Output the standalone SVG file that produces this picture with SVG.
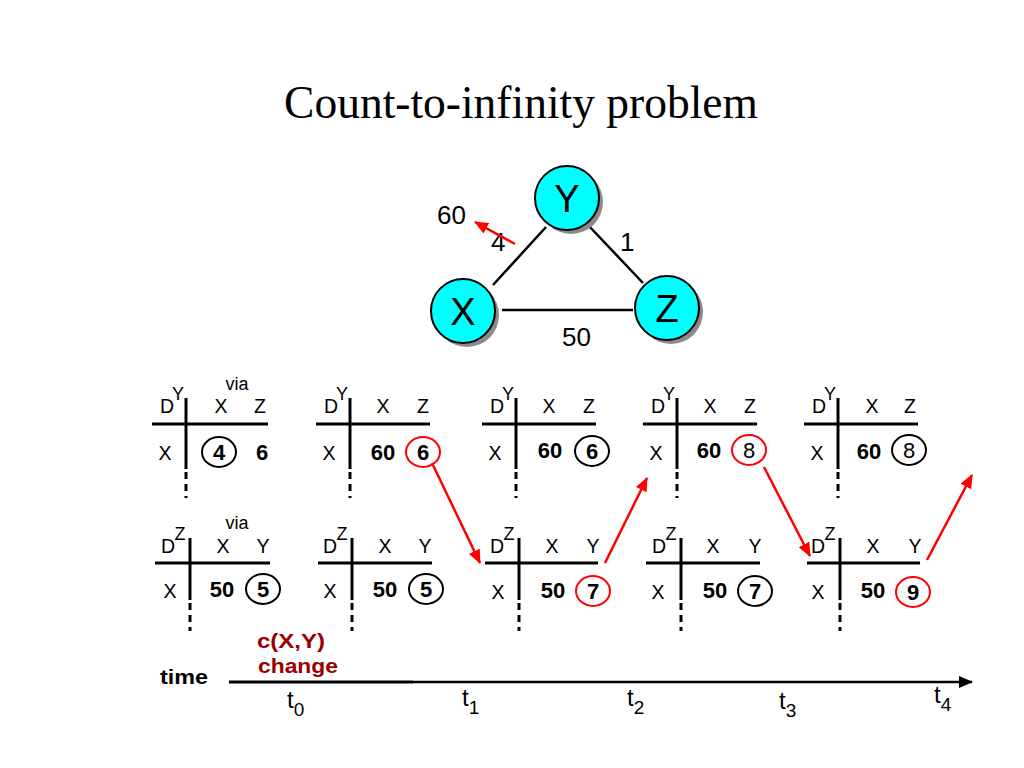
<svg xmlns="http://www.w3.org/2000/svg" width="1024" height="768" viewBox="0 0 1024 768">
<style>
.t{font-family:"Liberation Sans",Arial,sans-serif;fill:#000}
.h{font-size:19.5px;text-anchor:middle}
.s{font-size:18px;text-anchor:middle}
.b{font-weight:bold;font-size:22px}
.r{font-size:22px}
.ln{stroke:#000;stroke-width:3;fill:none}
.dash{stroke:#000;stroke-width:3;stroke-dasharray:7 5;fill:none}
.cb{fill:none;stroke:#000;stroke-width:2}
.cr{fill:none;stroke:#f00;stroke-width:2}
.ra{stroke:#f00;stroke-width:2.5;fill:none;marker-end:url(#rh)}
.node{fill:#00ffff;stroke:#000;stroke-width:2}
.shadow{fill:#8a8a8a}
.edge{stroke:#000;stroke-width:2.5}
.nl{font-family:"Liberation Sans",Arial,sans-serif;font-size:38px;text-anchor:middle}
.el{font-family:"Liberation Sans",Arial,sans-serif;font-size:26px}
.tl{font-family:"Liberation Sans",Arial,sans-serif;font-size:24px}
.sub{font-size:19px}
.dr{fill:#990000;font-weight:bold;font-size:21px}
</style>
<defs>
<marker id="rh" viewBox="0 0 14 12" refX="13" refY="6" markerWidth="14" markerHeight="12" markerUnits="userSpaceOnUse" orient="auto">
<path d="M0,0 L14,6 L0,12 z" fill="#f00"/>
</marker>
<marker id="bh" viewBox="0 0 14 12" refX="13" refY="6" markerWidth="14" markerHeight="12" markerUnits="userSpaceOnUse" orient="auto">
<path d="M0,0 L14,6 L0,12 z" fill="#000"/>
</marker>
</defs>
<rect width="1024" height="768" fill="#fff"/>
<text x="521" y="118" font-family="'Liberation Serif','Times New Roman',serif" font-size="45.5" text-anchor="middle">Count-to-infinity problem</text>

<g id="edges">
<line class="edge" x1="493" y1="285" x2="546" y2="227"/>
<line class="edge" x1="588" y1="225" x2="643" y2="283"/>
<line class="edge" x1="502" y1="310" x2="633" y2="310"/>
</g>
<g id="node-Y"><circle class="shadow" cx="571" cy="202" r="32"/><circle class="node" cx="567" cy="198" r="32"/><text class="nl" x="567" y="212">Y</text></g>
<g id="node-X"><circle class="shadow" cx="467" cy="315" r="32"/><circle class="node" cx="463" cy="311" r="32"/><text class="nl" x="463" y="325">X</text></g>
<g id="node-Z"><circle class="shadow" cx="671" cy="312" r="32"/><circle class="node" cx="667" cy="308" r="32"/><text class="nl" x="667" y="322">Z</text></g>
<g id="edge-labels">
<text class="el" x="437" y="224">60</text>
<text class="el" x="491" y="251">4</text>
<text class="el" x="620" y="251">1</text>
<text class="el" x="562" y="346">50</text>
<line class="ra" x1="515" y1="244" x2="475" y2="222"/>
</g>

<!-- top row tables -->
<g id="tableY-t0" class="t" transform="translate(186,424)">
<text class="s" x="51" y="-34">via</text>
<text class="h" x="-19" y="-11">D</text><text class="s" x="-8" y="-24">Y</text>
<line class="ln" x1="0" y1="-26" x2="0" y2="45"/><line class="dash" x1="0" y1="48" x2="0" y2="74"/>
<line class="ln" x1="-34" y1="0" x2="82" y2="0"/>
<text class="h" x="35" y="-11">X</text><text class="h" x="74" y="-11">Z</text>
<text class="h" x="-21" y="36">X</text>
<ellipse class="cb" cx="33" cy="28" rx="17" ry="15"/><text class="h b" x="33" y="36">4</text>
<text class="h b" x="76" y="36">6</text>
</g>
<g id="tableY-t1" class="t" transform="translate(350,424)">
<text class="h" x="-19" y="-11">D</text><text class="s" x="-8" y="-24">Y</text>
<line class="ln" x1="0" y1="-26" x2="0" y2="45"/><line class="dash" x1="0" y1="48" x2="0" y2="74"/>
<line class="ln" x1="-34" y1="0" x2="80" y2="0"/>
<text class="h" x="33" y="-11">X</text><text class="h" x="73" y="-11">Z</text>
<text class="h" x="-21" y="36">X</text>
<text class="h b" x="33" y="36">60</text>
<ellipse class="cr" cx="73" cy="28" rx="17" ry="15"/><text class="h b" x="73" y="36">6</text>
</g>
<g id="tableY-t2" class="t" transform="translate(516,424)">
<text class="h" x="-19" y="-11">D</text><text class="s" x="-8" y="-24">Y</text>
<line class="ln" x1="0" y1="-26" x2="0" y2="45"/><line class="dash" x1="0" y1="48" x2="0" y2="74"/>
<line class="ln" x1="-34" y1="0" x2="80" y2="0"/>
<text class="h" x="33" y="-11">X</text><text class="h" x="73" y="-11">Z</text>
<text class="h" x="-21" y="36">X</text>
<text class="h b" x="34" y="34">60</text>
<ellipse class="cb" cx="76" cy="27" rx="17" ry="15"/><text class="h b" x="76" y="35">6</text>
</g>
<g id="tableY-t3" class="t" transform="translate(677,424)">
<text class="h" x="-19" y="-11">D</text><text class="s" x="-8" y="-24">Y</text>
<line class="ln" x1="0" y1="-26" x2="0" y2="45"/><line class="dash" x1="0" y1="48" x2="0" y2="74"/>
<line class="ln" x1="-34" y1="0" x2="80" y2="0"/>
<text class="h" x="33" y="-11">X</text><text class="h" x="73" y="-11">Z</text>
<text class="h" x="-21" y="36">X</text>
<text class="h b" x="32" y="34">60</text>
<ellipse class="cr" cx="72" cy="26" rx="17" ry="15"/><text class="h r" x="72" y="34">8</text>
</g>
<g id="tableY-t4" class="t" transform="translate(838,424)">
<text class="h" x="-19" y="-11">D</text><text class="s" x="-8" y="-24">Y</text>
<line class="ln" x1="0" y1="-26" x2="0" y2="45"/><line class="dash" x1="0" y1="48" x2="0" y2="74"/>
<line class="ln" x1="-34" y1="0" x2="80" y2="0"/>
<text class="h" x="34" y="-11">X</text><text class="h" x="72" y="-11">Z</text>
<text class="h" x="-21" y="36">X</text>
<text class="h b" x="31" y="35">60</text>
<ellipse class="cb" cx="71" cy="26" rx="17" ry="15"/><text class="h r" x="71" y="34">8</text>
</g>

<!-- bottom row tables -->
<g id="tableZ-t0" class="t" transform="translate(190,563)">
<text class="s" x="47" y="-34">via</text>
<text class="h" x="-22" y="-10">D</text><text class="s" x="-10" y="-23">Z</text>
<line class="ln" x1="0" y1="-25" x2="0" y2="37"/><line class="dash" x1="0" y1="40" x2="0" y2="68"/>
<line class="ln" x1="-35" y1="0" x2="80" y2="0"/>
<text class="h" x="33" y="-10">X</text><text class="h" x="73" y="-10">Y</text>
<text class="h" x="-20" y="35">X</text>
<text class="h b" x="32" y="34">50</text>
<ellipse class="cb" cx="73" cy="26" rx="17" ry="15"/><text class="h b" x="73" y="34">5</text>
</g>
<g id="tableZ-t1" class="t" transform="translate(352,563)">
<text class="h" x="-22" y="-10">D</text><text class="s" x="-10" y="-23">Z</text>
<line class="ln" x1="0" y1="-25" x2="0" y2="37"/><line class="dash" x1="0" y1="40" x2="0" y2="68"/>
<line class="ln" x1="-34" y1="0" x2="80" y2="0"/>
<text class="h" x="33" y="-10">X</text><text class="h" x="73" y="-10">Y</text>
<text class="h" x="-22" y="35">X</text>
<text class="h b" x="33" y="34">50</text>
<ellipse class="cb" cx="74" cy="26" rx="17" ry="15"/><text class="h b" x="74" y="34">5</text>
</g>
<g id="tableZ-t2" class="t" transform="translate(519,563)">
<text class="h" x="-22" y="-10">D</text><text class="s" x="-10" y="-23">Z</text>
<line class="ln" x1="0" y1="-25" x2="0" y2="37"/><line class="dash" x1="0" y1="40" x2="0" y2="68"/>
<line class="ln" x1="-34" y1="0" x2="79" y2="0"/>
<text class="h" x="33" y="-10">X</text><text class="h" x="74" y="-10">Y</text>
<text class="h" x="-21" y="36">X</text>
<text class="h b" x="34" y="35">50</text>
<ellipse class="cr" cx="74" cy="28" rx="17" ry="15"/><text class="h b" x="74" y="36">7</text>
</g>
<g id="tableZ-t3" class="t" transform="translate(681,563)">
<text class="h" x="-22" y="-10">D</text><text class="s" x="-10" y="-23">Z</text>
<line class="ln" x1="0" y1="-25" x2="0" y2="37"/><line class="dash" x1="0" y1="40" x2="0" y2="68"/>
<line class="ln" x1="-35" y1="0" x2="79" y2="0"/>
<text class="h" x="32" y="-10">X</text><text class="h" x="74" y="-10">Y</text>
<text class="h" x="-23" y="36">X</text>
<text class="h b" x="34" y="35">50</text>
<ellipse class="cb" cx="74" cy="28" rx="17" ry="15"/><text class="h b" x="74" y="36">7</text>
</g>
<g id="tableZ-t4" class="t" transform="translate(840,563)">
<text class="h" x="-22" y="-10">D</text><text class="s" x="-10" y="-23">Z</text>
<line class="ln" x1="0" y1="-25" x2="0" y2="37"/><line class="dash" x1="0" y1="40" x2="0" y2="68"/>
<line class="ln" x1="-33" y1="0" x2="80" y2="0"/>
<text class="h" x="33" y="-10">X</text><text class="h" x="75" y="-10">Y</text>
<text class="h" x="-22" y="36">X</text>
<text class="h b" x="33" y="35">50</text>
<ellipse class="cr" cx="73" cy="29" rx="17" ry="15"/><text class="h b" x="73" y="37">9</text>
</g>

<g id="connectors">
<line class="ra" x1="432" y1="463" x2="480" y2="563"/>
<line class="ra" x1="605" y1="563" x2="647" y2="478"/>
<line class="ra" x1="764" y1="467" x2="810" y2="556"/>
<line class="ra" x1="927" y1="560" x2="972" y2="475"/>
</g>

<g id="timeline">
<line x1="229" y1="682" x2="413" y2="682" stroke="#000" stroke-width="3"/>
<line x1="413" y1="682" x2="972" y2="682" stroke="#000" stroke-width="2.5" marker-end="url(#bh)"/>
<text class="t" x="160" y="684" font-size="21" font-weight="bold" textLength="48" lengthAdjust="spacingAndGlyphs">time</text>
<text class="t dr" x="257" y="648" textLength="68" lengthAdjust="spacingAndGlyphs">c(X,Y)</text>
<text class="t dr" x="258" y="673" textLength="80" lengthAdjust="spacingAndGlyphs">change</text>
<text class="tl" x="287" y="708">t<tspan class="sub" dy="8">0</tspan></text>
<text class="tl" x="462" y="706">t<tspan class="sub" dy="8">1</tspan></text>
<text class="tl" x="627" y="706">t<tspan class="sub" dy="8">2</tspan></text>
<text class="tl" x="779" y="709">t<tspan class="sub" dy="8">3</tspan></text>
<text class="tl" x="934" y="703">t<tspan class="sub" dy="8">4</tspan></text>
</g>
</svg>
